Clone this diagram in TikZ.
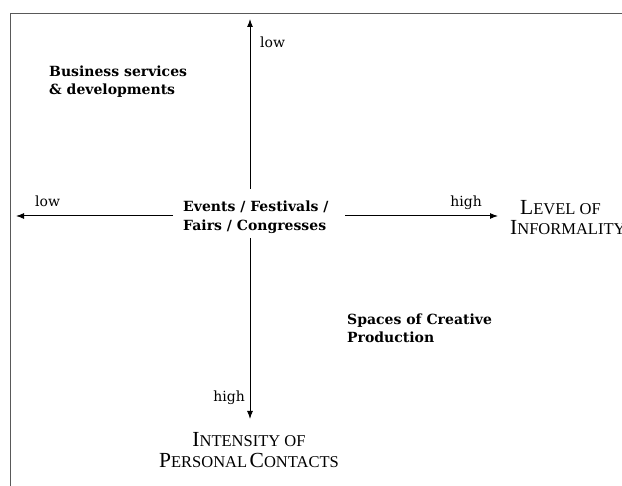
\documentclass[tikz,border=0pt]{standalone}
\usepackage{fontspec}
\setmainfont{DejaVu Serif}
\newfontfamily\titlefont{Liberation Serif}
\usetikzlibrary{arrows.meta}
\newcommand{\bigsc}[1]{{\fontsize{21.5}{24}\selectfont #1}}
\newcommand{\smsc}[1]{{\fontsize{16.5}{24}\selectfont #1}}
\tikzset{
  axis/.style={line width=1pt,-{Latex[length=8pt,width=6pt]}},
  lbl/.style={font=\fontsize{14}{16}\selectfont, inner sep=0pt},
  cat/.style={font=\bfseries\fontsize{14}{16}\selectfont, inner sep=0pt, anchor=base west},
  ttl/.style={font=\titlefont, inner sep=0pt, anchor=base},
  frame/.style={draw=black!65, line width=0.8pt}
}
\begin{document}
\begin{tikzpicture}[x=1pt,y=-1pt]
\useasboundingbox (0,0) rectangle (622,486);
\draw[frame] (10,486) -- (10,13) -- (622,13);
% center
\node[cat] (c1) at (183,212) {Events / Festivals /};
\node[cat] (c2) at (183,231) {Fairs / Congresses};
\coordinate (vtop0) at (250,189);
\coordinate (vtop) at (250,19);
\coordinate (vbot0) at (250,238);
\coordinate (vbot) at (250,419);
\coordinate (hl0) at (173,216);
\coordinate (hl) at (16,216);
\coordinate (hr0) at (345,216);
\coordinate (hr) at (498,216);
\draw[axis] (vtop0) -- (vtop);
\draw[axis] (vbot0) -- (vbot);
\draw[axis] (hl0) -- (hl);
\draw[axis] (hr0) -- (hr);
% labels
\node[lbl, anchor=base west] (lowt) at (260,48) {low};
\node[lbl, anchor=base west] (lowl) at (35,207) {low};
\node[lbl, anchor=base east] (highr) at (482,207) {high};
\node[lbl, anchor=base east] (highb) at (245,402) {high};
% categories
\node[cat] (bus1) at (49,77) {Business services};
\node[cat] (bus2) at (49,95) {\& developments};
\node[cat] (spa1) at (347,325) {Spaces of Creative};
\node[cat] (spa2) at (347,343) {Production};
% axis titles
\node[ttl, anchor=base west] (lev1) at (520,215) {\bigsc{L}\smsc{EVEL OF}};
\node[ttl, anchor=base west] (lev2) at (510,235) {\bigsc{I}\smsc{NFORMALITY}};
\node[ttl] (int1) at (249,447) {\bigsc{I}\smsc{NTENSITY OF}};
\node[ttl] (int2) at (249,468) {\bigsc{P}\smsc{ERSONAL} \bigsc{C}\smsc{ONTACTS}};
\end{tikzpicture}
\end{document}
